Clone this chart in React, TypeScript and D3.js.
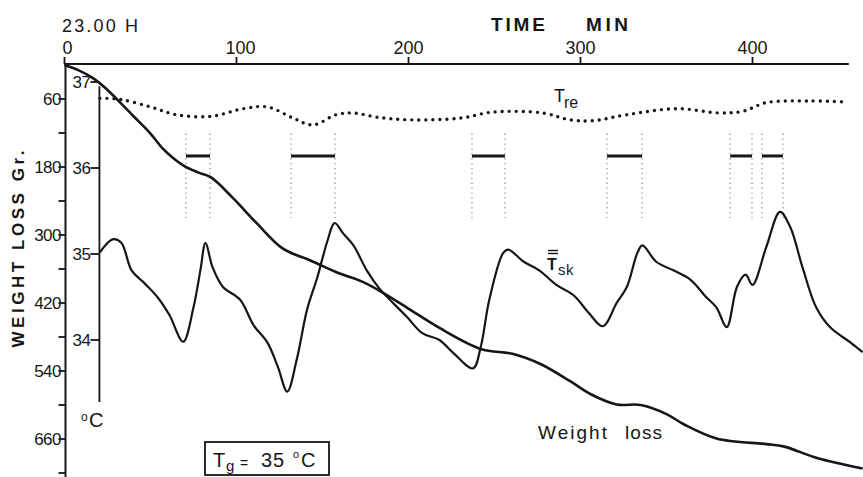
import React from "react";
import * as d3 from "d3";

// ---- data ----
const timeTicks = [0, 100, 200, 300, 400];
const weightTicks = [60, 120, 180, 240, 300, 360, 420, 480, 540, 600, 660, 720];
const weightLabels = [60, 180, 300, 420, 540, 660];
const tempTicks = [37, 36, 35, 34];

// Weight loss (g) vs time (min)
const weightTime = [0, 8, 17, 25, 31, 40, 50, 57, 69, 78, 85, 98, 112, 127, 143, 160, 172, 183, 199, 218, 242, 261, 277, 294, 306, 321, 335, 350, 360, 379, 408, 418, 438, 464];
const weightLoss = [0, 9, 24, 44, 62, 90, 121, 147, 177, 190, 198, 235, 280, 324, 345, 368, 381, 398, 428, 464, 501, 510, 528, 558, 581, 599, 600, 616, 634, 659, 669, 673, 694, 712];

// Mean skin temperature (°C)
const tskTime = [20.6, 28, 33, 39, 46, 54, 61, 69, 75, 79, 82, 86, 92, 102, 110, 118, 124, 129.5, 135, 141, 147, 153, 157, 162, 168, 176, 183, 199, 208, 218, 226, 237.5, 242, 247, 255, 258, 267, 276, 286, 296, 305, 313, 321, 327, 333, 336, 344, 354, 364, 373, 379, 385, 391, 396, 400, 408, 416, 422, 429, 437, 445, 457, 464];
const tskValue = [35.02, 35.17, 35.13, 34.81, 34.67, 34.5, 34.29, 33.98, 34.38, 34.81, 35.13, 34.85, 34.62, 34.47, 34.17, 33.97, 33.69, 33.4, 33.77, 34.35, 34.73, 35.16, 35.36, 35.24, 35.1, 34.8, 34.6, 34.27, 34.08, 34.0, 33.85, 33.67, 33.92, 34.47, 35.01, 35.05, 34.91, 34.81, 34.64, 34.52, 34.31, 34.16, 34.43, 34.62, 35.01, 35.1, 34.91, 34.81, 34.7, 34.5, 34.38, 34.15, 34.62, 34.76, 34.64, 35.08, 35.49, 35.31, 34.85, 34.38, 34.15, 33.97, 33.86];

// Rectal temperature (°C)
const treTime = [20.6, 32, 50, 65, 85, 104, 118, 133, 144.5, 158, 168, 182, 201, 230, 249, 278, 294, 307, 327, 356, 381, 394.5, 408, 433, 452];
const treValue = [36.81, 36.8, 36.71, 36.62, 36.6, 36.69, 36.71, 36.58, 36.5, 36.62, 36.64, 36.59, 36.56, 36.58, 36.65, 36.64, 36.56, 36.55, 36.62, 36.69, 36.64, 36.66, 36.76, 36.78, 36.77];

// Sweating episodes (min)
const episodeStart = [70.6, 131.7, 236.9, 315.4, 387, 405.5];
const episodeEnd = [84.6, 157.3, 256.1, 335.8, 399.7, 417.7];

const W = 863;
const H = 477;
const INK = "#161616";
const FONT = "'Liberation Sans', Arial, Helvetica, sans-serif";

export default function App() {
  const x = d3.scaleLinear().domain([0, 400]).range([64.5, 752.5]);
  const yW = d3.scaleLinear().domain([0, 720]).range([65, 473]);
  const yT = d3.scaleLinear().domain([34, 37]).range([340, 82]);

  const wLine = d3
    .line<number>()
    .x((_, i) => x(weightTime[i]))
    .y((d) => yW(d))
    .curve(d3.curveCatmullRom.alpha(0.5));
  const tskLine = d3
    .line<number>()
    .x((_, i) => x(tskTime[i]))
    .y((d) => yT(d))
    .curve(d3.curveCatmullRom.alpha(0.5));
  const treLine = d3
    .line<number>()
    .x((_, i) => x(treTime[i]))
    .y((d) => yT(d))
    .curve(d3.curveCatmullRom.alpha(0.5));

  const axisTop = yW(0) - 1;
  const tAxisX = x(20.6) - 0.5;

  return (
    <svg
      width={W}
      height={H}
      viewBox={`0 0 ${W} ${H}`}
      style={{ position: "absolute", left: 0, top: 0, background: "#fff" }}
      fontFamily={FONT}
    >
      <rect x={0} y={0} width={W} height={H} fill="#fff" />

      {/* top time axis */}
      <line x1={x(0)} x2={x(456)} y1={axisTop} y2={axisTop} stroke={INK} strokeWidth={2} />
      {timeTicks.map((t) => (
        <g key={t}>
          <line x1={x(t)} x2={x(t)} y1={axisTop} y2={axisTop - 7} stroke={INK} strokeWidth={1.8} />
          <text x={t === 0 ? x(t) + 3 : x(t) + (t === 100 ? 4 : 0)} y={54} fontSize={18} textAnchor="middle" fill={INK}>
            {t}
          </text>
        </g>
      ))}
      <text x={62} y={32} fontSize={18} fill={INK} textLength={76} lengthAdjust="spacing">
        23.00 H
      </text>
      <text x={491} y={31} fontSize={19} fontWeight="bold" fill={INK} textLength={54} lengthAdjust="spacing">
        TIME
      </text>
      <text x={586} y={31} fontSize={19} fontWeight="bold" fill={INK} textLength={42} lengthAdjust="spacing">
        MIN
      </text>

      {/* weight loss axis */}
      <line x1={x(0) + 1} x2={x(0) + 1} y1={axisTop} y2={H} stroke={INK} strokeWidth={2} />
      {weightTicks.map((w) => (
        <line key={w} x1={x(0) - 6} x2={x(0) + 1} y1={yW(w)} y2={yW(w)} stroke={INK} strokeWidth={1.8} />
      ))}
      {weightLabels.map((w) => (
        <text key={w} x={61} y={yW(w) + 6} fontSize={17} textAnchor="end" fill={INK} letterSpacing={-0.5}>
          {w}
        </text>
      ))}
      <text
        transform="translate(24,249) rotate(-90)"
        fontSize={17}
        fontWeight="bold"
        textAnchor="middle"
        fill={INK}
        textLength={197}
        lengthAdjust="spacing"
      >
        WEIGHT LOSS Gr.
      </text>

      {/* temperature axis */}
      <line x1={tAxisX} x2={tAxisX} y1={yT(36.95)} y2={402} stroke={INK} strokeWidth={1.8} />
      {tempTicks.map((t) => (
        <g key={t}>
          <line x1={tAxisX - 9} x2={tAxisX} y1={yT(t)} y2={yT(t)} stroke={INK} strokeWidth={1.8} />
          <text x={tAxisX - 9} y={yT(t) + 6} fontSize={17} textAnchor="end" fill={INK} letterSpacing={-0.5}>
            {t}
          </text>
        </g>
      ))}
      <text x={81} y={421} fontSize={12} fill={INK}>
        o
      </text>
      <text x={89} y={427} fontSize={20} fill={INK}>
        C
      </text>

      {/* sweating episodes */}
      {episodeStart.map((s, i) => {
        const e = episodeEnd[i];
        return (
          <g key={i}>
            {[s, e].map((t, k) => (
              <line
                key={k}
                x1={x(t)}
                x2={x(t)}
                y1={yT(36.4)}
                y2={yT(35.42)}
                stroke="#8a8a8a"
                strokeWidth={1.2}
                strokeDasharray="1.3 3.6"
              />
            ))}
            <line x1={x(s)} x2={x(e)} y1={yT(36.14)} y2={yT(36.14)} stroke={INK} strokeWidth={3} />
          </g>
        );
      })}

      {/* curves */}
      <path
        d={treLine(treValue) || ""}
        fill="none"
        stroke={INK}
        strokeWidth={3.4}
        strokeLinecap="round"
        strokeDasharray="0 7"
      />
      <path d={wLine(weightLoss) || ""} fill="none" stroke={INK} strokeWidth={2.6} />
      <path d={tskLine(tskValue) || ""} fill="none" stroke={INK} strokeWidth={2.2} />

      {/* curve labels */}
      <text x={554} y={102} fontSize={18} fill={INK}>
        T
      </text>
      <text x={564} y={108} fontSize={16} fill={INK}>
        re
      </text>

      <line x1={548} x2={558} y1={250.5} y2={250.5} stroke={INK} strokeWidth={1.4} />
      <line x1={548} x2={558} y1={253.5} y2={253.5} stroke={INK} strokeWidth={1.4} />
      <text x={547} y={270} fontSize={16} fontWeight="bold" fill={INK}>
        T
      </text>
      <text x={558} y={275} fontSize={15} fill={INK} letterSpacing={0.5}>
        sk
      </text>

      <text x={538} y={439} fontSize={19} fill={INK} textLength={69} lengthAdjust="spacing">
        Weight
      </text>
      <text x={625} y={439} fontSize={19} fill={INK} textLength={37} lengthAdjust="spacing">
        loss
      </text>

      {/* Tg box */}
      <rect x={205} y={442} width={124} height={33} fill="none" stroke={INK} strokeWidth={1.8} />
      <text x={213} y={467} fontSize={20} fill={INK}>
        T
      </text>
      <text x={226} y={471} fontSize={15} fill={INK}>
        g
      </text>
      <text x={240} y={468} fontSize={14} fill={INK}>
        =
      </text>
      <text x={261} y={467} fontSize={20} fill={INK} letterSpacing={1}>
        35
      </text>
      <text x={293} y={458} fontSize={11} fill={INK}>
        o
      </text>
      <text x={301} y={467} fontSize={20} fill={INK}>
        C
      </text>
    </svg>
  );
}
